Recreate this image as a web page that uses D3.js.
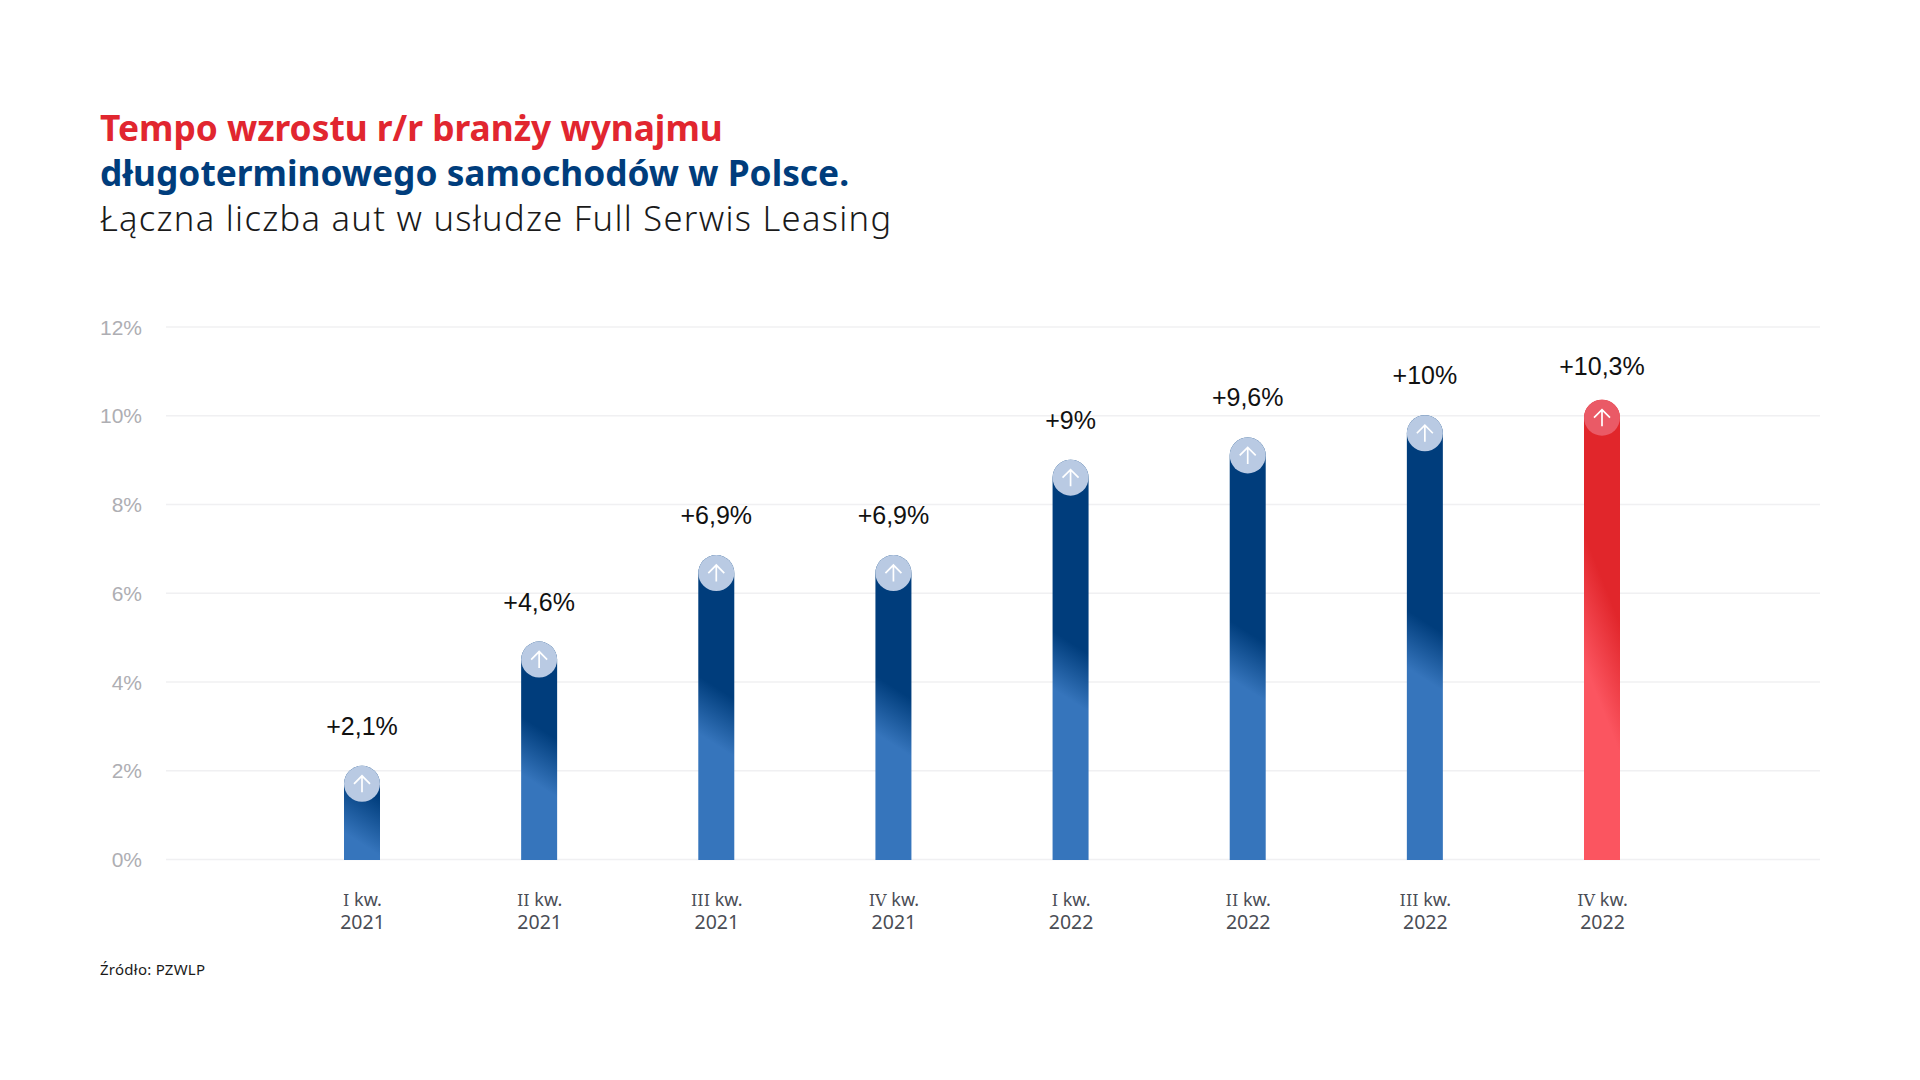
<!DOCTYPE html>
<html lang="pl">

<head>
    <meta charset="utf-8">
    <script src="https://d3js.org/d3.v7.min.js"></script>
    <style>
        body { margin: 0; background: #fff; }
        svg { display: block; }
    </style>
</head>

<body>
    <script>
        // data
        const quarters = ["I kw.", "II kw.", "III kw.", "IV kw.", "I kw.", "II kw.", "III kw.", "IV kw."];
        const years = ["2021", "2021", "2021", "2021", "2022", "2022", "2022", "2022"];
        const barValues = [2.1, 4.9, 6.85, 6.85, 9, 9.5, 10, 10.35]; // drawn height of the bars, in %
        const barLabels = ["+2,1%", "+4,6%", "+6,9%", "+6,9%", "+9%", "+9,6%", "+10%", "+10,3%"];
        const yTicks = [0, 2, 4, 6, 8, 10, 12];
        const keys = quarters.map((q, i) => q + " " + years[i]);

        const svg = d3.select("body").append("svg")
            .attr("width", 1920)
            .attr("height", 1080);

        // title
        const titleFont = "'Noto Sans', sans-serif";
        const titleLines = [
            { text: "Tempo wzrostu r/r branży wynajmu", y: 141, fill: "#e1262f", weight: 700, size: 35.3, spacing: 0 },
            { text: "długoterminowego samochodów w Polsce.", y: 186, fill: "#003d7c", weight: 700, size: 35.3, spacing: 0 },
            { text: "Łączna liczba aut w usłudze Full Serwis Leasing", y: 231, fill: "#1a1a1a", weight: 300, size: 34.5, spacing: 1.3 }
        ];
        svg.selectAll(".title").data(titleLines).join("text")
            .attr("class", "title")
            .attr("x", 100)
            .attr("y", d => d.y)
            .attr("font-family", titleFont)
            .attr("font-size", d => d.size)
            .attr("font-weight", d => d.weight)
            .attr("letter-spacing", d => d.spacing)
            .attr("fill", d => d.fill)
            .text(d => d.text);

        // scales
        const gridLeft = 166, gridRight = 1820;
        const x = d3.scalePoint().domain(keys).range([362, 1602]);
        const y = d3.scaleLinear().domain([0, 12]).range([859, 326.5]);
        const barW = 36, r = barW / 2;

        // y axis + gridlines
        const yAxis = svg.append("g")
            .attr("transform", `translate(${gridLeft},0)`)
            .call(d3.axisLeft(y).tickValues(yTicks).tickFormat(d => d + "%").tickSize(0).tickPadding(24));
        yAxis.select(".domain").remove();
        yAxis.selectAll("text")
            .attr("font-family", "'Liberation Sans', sans-serif")
            .attr("font-size", 21)
            .attr("dy", "0.36em")
            .attr("fill", "#aeaeb3");
        yAxis.selectAll(".tick line")
            .attr("x1", 0)
            .attr("x2", gridRight - gridLeft)
            .attr("stroke", "#f0f0f2")
            .attr("stroke-width", 1.5);

        // x axis, two lines per tick
        const xAxis = svg.append("g")
            .attr("transform", "translate(0,859)")
            .call(d3.axisBottom(x).tickSize(0).tickFormat(""));
        xAxis.select(".domain").remove();
        xAxis.selectAll(".tick text").each(function (d, i) {
            const t = d3.select(this).text(null)
                .attr("font-family", "'Noto Sans', sans-serif")
                .attr("font-size", 18)
                .attr("fill", "#4a4d55")
                .attr("y", 0).attr("dy", 0);
            const parts = quarters[i].split(" ");
            const l1 = t.append("tspan").attr("x", 0).attr("y", 47);
            l1.append("tspan").attr("font-family", "'DejaVu Serif', serif").attr("font-size", 16).text(parts[0]);
            l1.append("tspan").text(" " + parts[1]);
            t.append("tspan").attr("x", 0).attr("y", 70).attr("font-size", 19.5).text(years[i]);
        });

        // one gradient per bar, slanted like the original
        const defs = svg.append("defs");
        const isLast = i => i === barValues.length - 1;
        barValues.forEach((v, i) => {
            const cx = x(keys[i]);
            const top = y(v);
            const h = y(0) - top;
            const slant = isLast(i) ? [-0.93, 0.37] : [-0.54, 0.84];
            const span = isLast(i) ? 130 : 58;
            const mid = top + h * 0.53;
            const half = span * slant[1] / 2;
            defs.append("linearGradient")
                .attr("id", "bar" + i)
                .attr("gradientUnits", "userSpaceOnUse")
                .attr("x1", cx - slant[0] * half).attr("y1", mid - slant[1] * half)
                .attr("x2", cx + slant[0] * half).attr("y2", mid + slant[1] * half)
                .call(g => {
                    g.append("stop").attr("offset", 0).attr("stop-color", isLast(i) ? "#e1262b" : "#003d7c");
                    g.append("stop").attr("offset", 1).attr("stop-color", isLast(i) ? "#fb5560" : "#3675bc");
                });
        });

        // bars with a round top
        svg.selectAll(".bar").data(barValues).join("path")
            .attr("class", "bar")
            .attr("fill", (d, i) => `url(#bar${i})`)
            .attr("d", (d, i) => {
                const x0 = x(keys[i]) - r, x1 = x0 + barW, top = y(d);
                return `M${x0},${y(0) + 1}V${top + r}A${r},${r} 0 0 1 ${x1},${top + r}V${y(0) + 1}Z`;
            });

        // caps with arrow
        const caps = svg.selectAll(".cap").data(barValues).join("g")
            .attr("class", "cap")
            .attr("transform", (d, i) => `translate(${x(keys[i])},${y(d) + r})`);
        caps.append("circle")
            .attr("r", r)
            .attr("fill", (d, i) => isLast(i) ? "#ea5a66" : "#b9cae3");
        caps.append("path")
            .attr("d", "M0,8.5V-8M-8,0L0,-8L8,0")
            .attr("fill", "none")
            .attr("stroke", "#fff")
            .attr("stroke-width", 1.7);

        // value labels, the red bar's label sits a little closer
        svg.selectAll(".val").data(barLabels).join("text")
            .attr("class", "val")
            .attr("x", (d, i) => x(keys[i]))
            .attr("y", (d, i) => y(barValues[i]) - (isLast(i) ? 25 : 31))
            .attr("text-anchor", "middle")
            .attr("font-family", "'Liberation Sans', sans-serif")
            .attr("font-size", 25)
            .attr("fill", "#111")
            .text(d => d);

        // source
        svg.append("text")
            .attr("x", 100)
            .attr("y", 975)
            .attr("font-family", "'Noto Sans', sans-serif")
            .attr("font-size", 15)
            .attr("letter-spacing", 0.25)
            .attr("fill", "#1a1a1a")
            .text("Źródło: PZWLP");
    </script>
</body>

</html>
